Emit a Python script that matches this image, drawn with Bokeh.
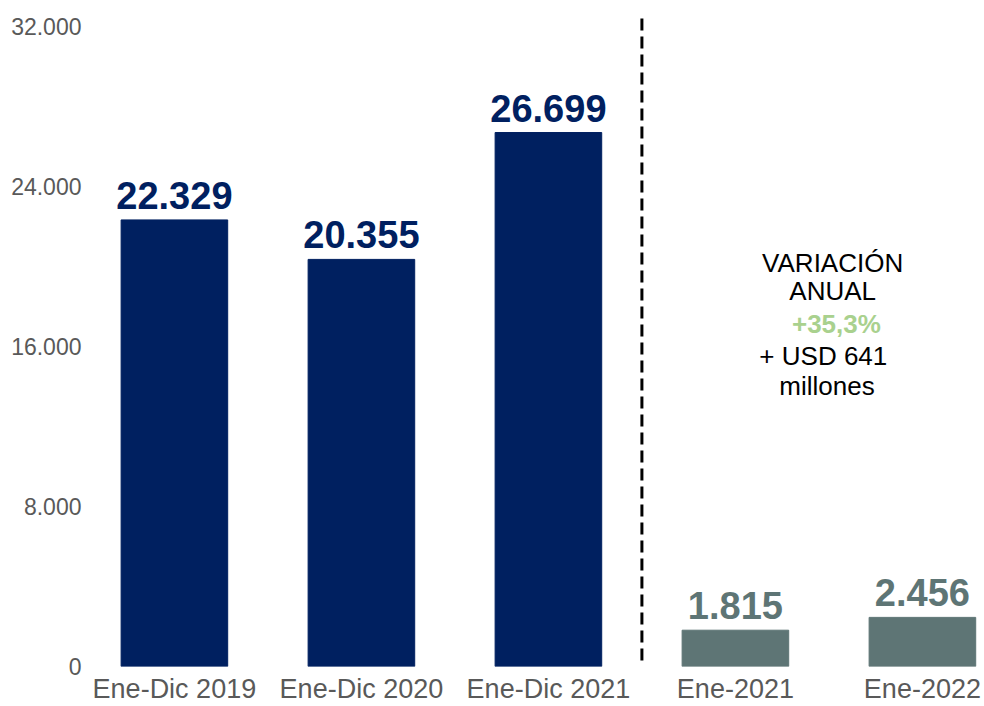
from bokeh.plotting import figure
from bokeh.models import ColumnDataSource, FixedTicker, Range1d
from bokeh.core.properties import value
from bokeh.embed import file_html
from bokeh.resources import INLINE

categories = ["Ene-Dic 2019", "Ene-Dic 2020", "Ene-Dic 2021", "Ene-2021", "Ene-2022"]
values = [22329, 20355, 26699, 1815, 2456]
labels = ["22.329", "20.355", "26.699", "1.815", "2.456"]
y_ticks = [0, 8000, 16000, 24000, 32000]
y_tick_labels = ["0", "8.000", "16.000", "24.000", "32.000"]
note_lines = ["VARIACIÓN", "ANUAL", "+35,3%", "+ USD 641", "millones"]

NAVY = "#002060"
GRAY = "#5E7575"
colors = [NAVY, NAVY, NAVY, GRAY, GRAY]
FONT = "Liberation Sans"

xs = list(range(len(categories)))
src = ColumnDataSource(dict(x=xs, top=values, color=colors, label=labels))

p = figure(width=984, height=706, output_backend="svg", toolbar_location=None,
           x_range=Range1d(-0.438, 4.332), y_range=Range1d(0, 33300),
           min_border_left=92, min_border_right=0, min_border_top=0, min_border_bottom=30)
p.outline_line_color = None
p.background_fill_color = "white"
p.xgrid.grid_line_color = None
p.ygrid.grid_line_color = None

p.vbar(x="x", top="top", width=0.57, color="color", source=src)
p.text(x="x", y="top", text="label", source=src, text_color="color",
       text_font=value(FONT), text_font_style="bold", text_font_size="38px",
       text_align="center", text_baseline="bottom", y_offset=-11)

# divider between the two periods
p.segment(x0=[2.5], y0=[300], x1=[2.5], y1=[32550], line_color="black",
          line_width=3, line_dash="12 6")

# annotation
note_y = [20200, 18800, 17150, 15550, 14050]
note_x = [3.52, 3.52, 3.54, 3.47, 3.49]
note_col = ["black", "black", "#A9D18E", "black", "black"]
note_style = ["normal", "normal", "bold", "normal", "normal"]
for t, xx, yy, c, s in zip(note_lines, note_x, note_y, note_col, note_style):
    p.text(x=[xx], y=[yy], text=[t], text_color=c, text_font=value(FONT),
           text_font_style=s, text_font_size="26px", text_align="center",
           text_baseline="middle")

p.xaxis.ticker = FixedTicker(ticks=xs)
p.xaxis.major_label_overrides = {i: c for i, c in zip(xs, categories)}
p.yaxis.ticker = FixedTicker(ticks=y_ticks)
p.yaxis.major_label_overrides = {t: l for t, l in zip(y_ticks, y_tick_labels)}
for ax in (p.xaxis, p.yaxis):
    ax.axis_line_color = None
    ax.major_tick_line_color = None
    ax.minor_tick_line_color = None
    ax.major_label_text_color = "#595959"
    ax.major_label_text_font = FONT
p.xaxis.major_label_text_font_size = "27px"
p.xaxis.major_label_standoff = 1
p.yaxis.major_label_text_font_size = "23px"
p.yaxis.major_label_standoff = 5

open("out.html", "w").write(file_html(p, INLINE))
